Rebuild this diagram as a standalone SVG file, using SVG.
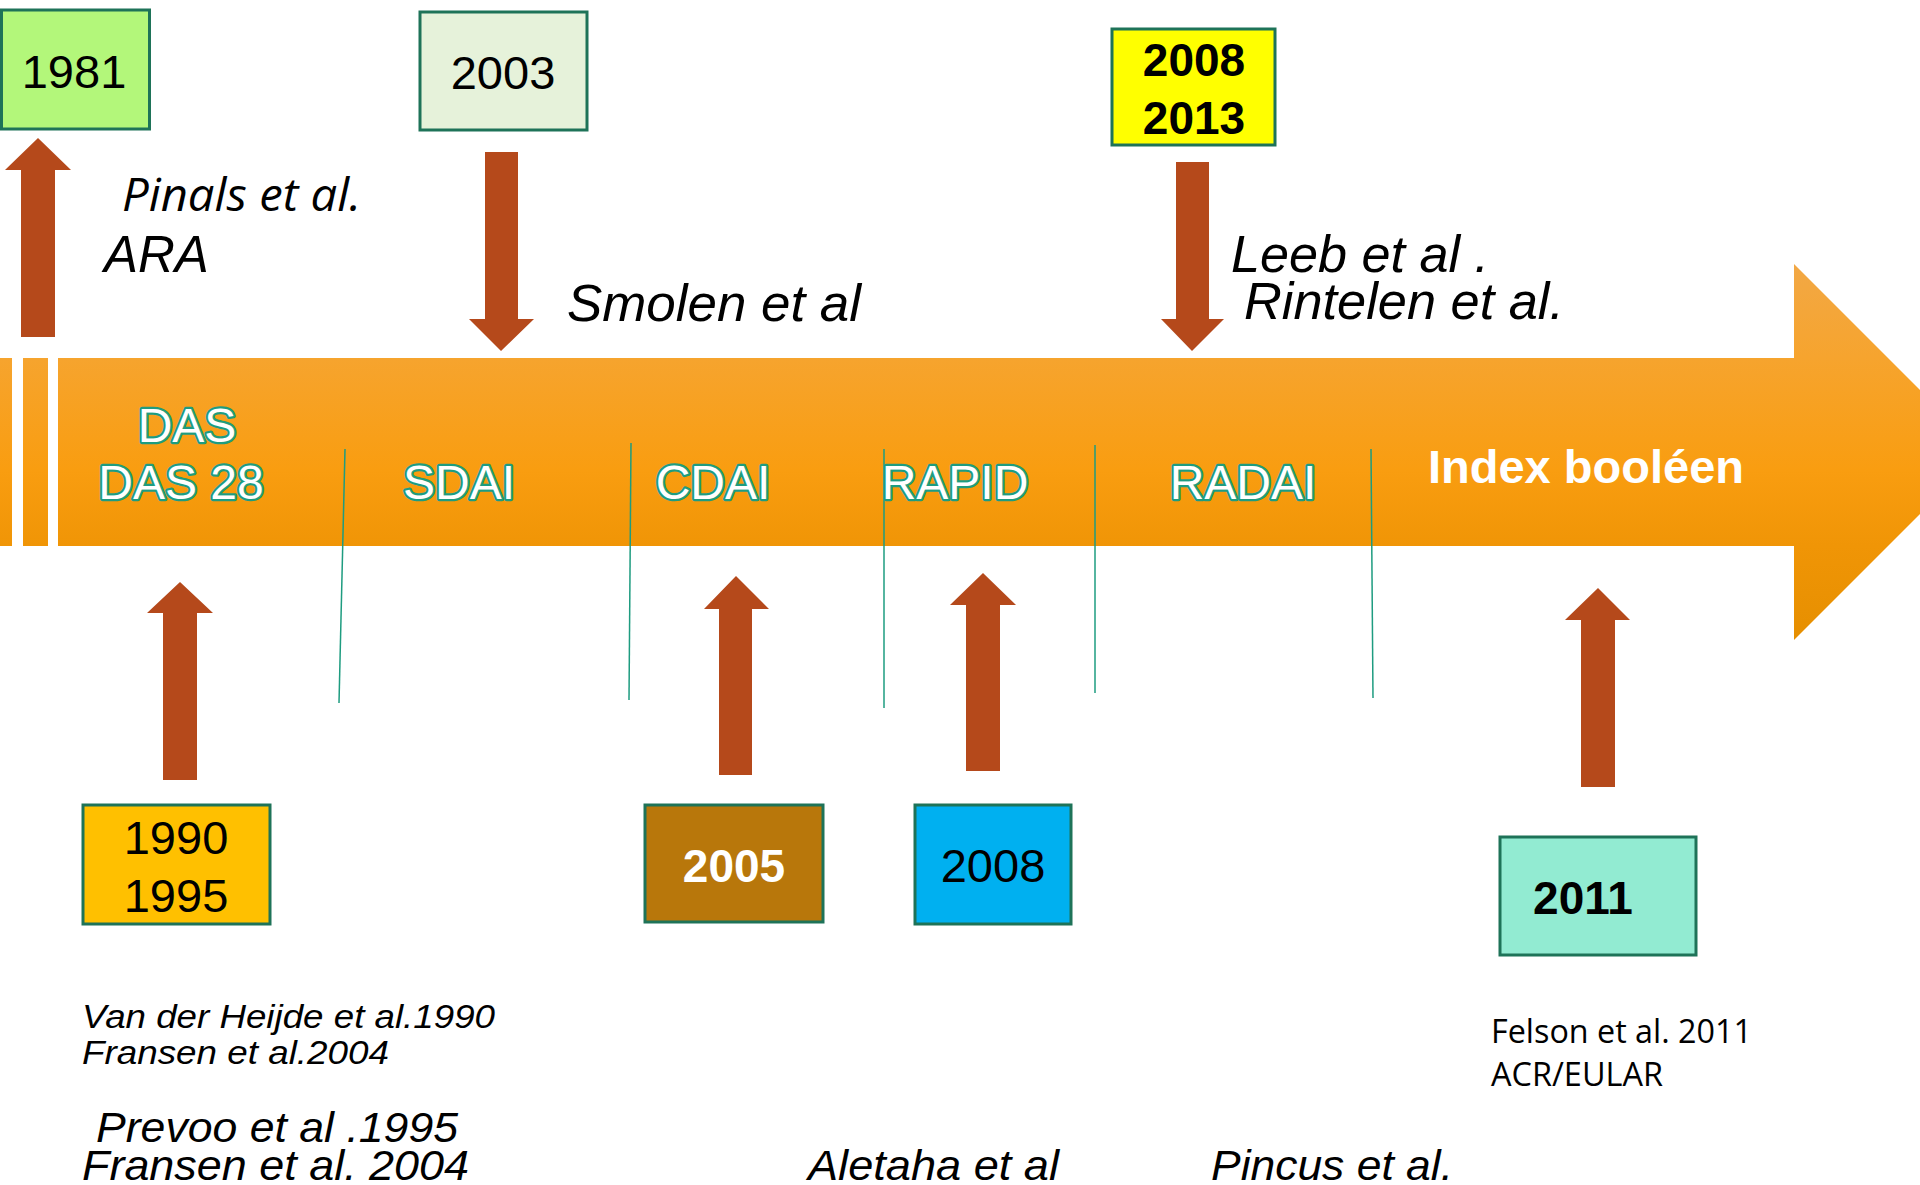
<svg xmlns="http://www.w3.org/2000/svg" width="1920" height="1185" viewBox="0 0 1920 1185">
<style>
.box{stroke:#1E7358;stroke-width:3}
.yr{font-family:"Liberation Sans",Arial,sans-serif;font-size:47px;fill:#000;text-anchor:middle}
.yrb{font-family:"Liberation Sans",Arial,sans-serif;font-size:46px;font-weight:bold;fill:#000;text-anchor:middle}
.lab{font-family:"Liberation Sans",Arial,sans-serif;font-size:48px;fill:#fff;stroke:#1E9C80;stroke-width:4.5;paint-order:stroke fill;stroke-linejoin:round;text-anchor:middle}
.it{font-family:"Liberation Sans",Arial,sans-serif;font-style:italic;fill:#000}
.cal{font-family:"Open Sans","Noto Sans",sans-serif;fill:#000}
.arr{fill:#B5491B}
.sep{stroke:#1E9C80;stroke-width:1.5;fill:none}
</style>
<defs>
<linearGradient id="og" gradientUnits="userSpaceOnUse" x1="0" y1="264" x2="0" y2="640">
<stop offset="0" stop-color="#F2A845"/>
<stop offset="0.25" stop-color="#F6A42E"/>
<stop offset="0.55" stop-color="#F99D10"/>
<stop offset="0.75" stop-color="#F09506"/>
<stop offset="1" stop-color="#E68F00"/>
</linearGradient>
</defs>
<rect width="1920" height="1185" fill="#fff"/>

<g id="timeline">
<rect x="0" y="358" width="12" height="188" fill="url(#og)"/>
<rect x="23" y="358" width="25" height="188" fill="url(#og)"/>
<polygon points="58,358 1794,358 1794,264 1982,452 1794,640 1794,546 58,546" fill="url(#og)"/>
</g>

<g id="connectors">
<line class="sep" x1="345" y1="449" x2="339" y2="703"/>
<line class="sep" x1="631" y1="443" x2="629" y2="700"/>
<line class="sep" x1="884" y1="449" x2="884" y2="708"/>
<line class="sep" x1="1095" y1="445" x2="1095" y2="693"/>
<line class="sep" x1="1371" y1="449" x2="1373" y2="698"/>
<polygon class="arr" points="21,337 55,337 55,170 71,170 38,138 5,170 21,170"/>
<polygon class="arr" points="485,152 518,152 518,319 534,319 501,351 469,319 485,319"/>
<polygon class="arr" points="1176,162 1209,162 1209,319 1224,319 1192,351 1161,319 1176,319"/>
<polygon class="arr" points="163,780 197,780 197,613 213,613 180,582 147,613 163,613"/>
<polygon class="arr" points="719,775 752,775 752,609 769,609 736,576 704,609 719,609"/>
<polygon class="arr" points="966,771 1000,771 1000,605 1016,605 983,573 950,605 966,605"/>
<polygon class="arr" points="1581,787 1615,787 1615,620 1630,620 1598,588 1565,620 1581,620"/>
</g>

<g id="labels-bar">
<text class="lab" x="187" y="442">DAS</text>
<text class="lab" x="181" y="499">DAS 28</text>
<text class="lab" x="459" y="499">SDAI</text>
<text class="lab" x="713" y="499">CDAI</text>
<text class="lab" x="955" y="499">RAPID</text>
<text class="lab" x="1243" y="499">RADAI</text>
<text x="1586" y="483" font-family="'Liberation Sans',Arial,sans-serif" font-size="47" font-weight="bold" fill="#fff" text-anchor="middle">Index booléen</text>
</g>

<g id="n1981">
<rect class="box" x="1.5" y="10" width="148" height="119" fill="#B3F77A"/>
<text class="yr" x="74" y="88">1981</text>
</g>
<g id="n2003">
<rect class="box" x="420" y="12" width="167" height="118" fill="#E6F2DA"/>
<text class="yr" x="503" y="89">2003</text>
</g>
<g id="n2008-2013">
<rect class="box" x="1112" y="29" width="163" height="116" fill="#FFFF00"/>
<text class="yrb" x="1194" y="76">2008</text>
<text class="yrb" x="1194" y="134">2013</text>
</g>
<g id="n1990-1995">
<rect class="box" x="83" y="805" width="187" height="119" fill="#FFC000"/>
<text class="yr" x="176" y="854">1990</text>
<text class="yr" x="176" y="912">1995</text>
</g>
<g id="n2005">
<rect class="box" x="645" y="805" width="178" height="117" fill="#B8770B"/>
<text class="yrb" x="734" y="882" style="fill:#fff">2005</text>
</g>
<g id="n2008">
<rect class="box" x="915" y="805" width="156" height="119" fill="#00B0F0"/>
<text class="yr" x="993" y="882">2008</text>
</g>
<g id="n2011">
<rect class="box" x="1500" y="837" width="196" height="118" fill="#92EBD2"/>
<text class="yrb" x="1583" y="914">2011</text>
</g>

<g id="refs">
<text class="cal" x="122" y="211" font-size="46" font-style="italic" textLength="239" lengthAdjust="spacingAndGlyphs">Pinals et al.</text>
<text class="it" x="104" y="272" font-size="51">ARA</text>
<text class="it" x="567" y="321" font-size="52" textLength="294" lengthAdjust="spacingAndGlyphs">Smolen et al</text>
<text class="it" x="1231" y="272" font-size="52" textLength="258" lengthAdjust="spacingAndGlyphs">Leeb et al .</text>
<text class="it" x="1244" y="319" font-size="52" textLength="320" lengthAdjust="spacingAndGlyphs">Rintelen et al.</text>
<text class="it" x="82" y="1028" font-size="34" textLength="413" lengthAdjust="spacingAndGlyphs">Van der Heijde et al.1990</text>
<text class="it" x="82" y="1064" font-size="34" textLength="307" lengthAdjust="spacingAndGlyphs">Fransen et al.2004</text>
<text class="it" x="96" y="1142" font-size="42" textLength="362" lengthAdjust="spacingAndGlyphs">Prevoo et al .1995</text>
<text class="it" x="82" y="1180" font-size="42" textLength="387" lengthAdjust="spacingAndGlyphs">Fransen et al. 2004</text>
<text class="it" x="808" y="1180" font-size="42" textLength="251" lengthAdjust="spacingAndGlyphs">Aletaha et al</text>
<text class="it" x="1211" y="1180" font-size="42" textLength="242" lengthAdjust="spacingAndGlyphs">Pincus et al.</text>
<text class="cal" x="1491" y="1043" font-size="32" textLength="261" lengthAdjust="spacingAndGlyphs">Felson et al. 2011</text>
<text class="cal" x="1491" y="1086" font-size="32" textLength="172" lengthAdjust="spacingAndGlyphs">ACR/EULAR</text>
</g>
</svg>
